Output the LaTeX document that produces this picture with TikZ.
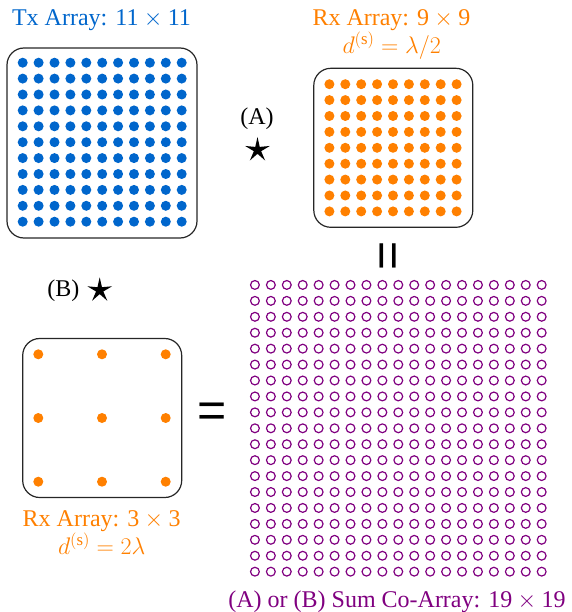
\RequirePackage{fix-cm}
\documentclass[tikz,border=0pt]{standalone}
\usepackage{fontspec}
\usetikzlibrary{shapes.geometric}
\setmainfont{Liberation Serif}
\newfontfamily\eqfont{Liberation Sans}
\definecolor{txblue}{RGB}{0,102,204}
\definecolor{rxorange}{RGB}{255,128,0}
\definecolor{copurple}{RGB}{128,0,128}
\begin{document}
\begin{tikzpicture}[x=1pt,y=-1pt,
  arraybox/.style={draw=black!85, line width=1.2pt, rounded corners=17pt, inner sep=0pt},
  txdot/.style={circle, fill=txblue, inner sep=0pt, minimum size=10pt},
  rxdot/.style={circle, fill=rxorange, inner sep=0pt, minimum size=10pt},
  codot/.style={circle, draw=copurple, line width=1.2pt, inner sep=0pt, minimum size=8.8pt},
  lbl/.style={font=\fontsize{24}{28}\selectfont, anchor=base, inner sep=0pt},
  opsym/.style={font=\eqfont\fontsize{50}{50}\selectfont, inner sep=0pt},
  convstar/.style={star, star points=5, star point ratio=3.4, fill=black, inner sep=0pt, minimum size=26pt}]
\useasboundingbox (0,0) rectangle (571,612);

% Tx array 11 x 11
\node[arraybox, minimum size=190pt] (txbox) at (102,143) {};
\foreach \i in {-5,...,5}{
  \foreach \j in {-5,...,5}{
    \node[txdot] (tx\i\j) at ({102.2+15.9*\i},{142.2+15.9*\j}) {};
  }
}
\node[lbl, text=txblue] (txlabel) at (101.5,26) {Tx Array: 11${}\times{}$11};

% Rx array 9 x 9
\node[arraybox, minimum size=159pt] (rxAbox) at (393.3,147.8) {};
\foreach \i in {-4,...,4}{
  \foreach \j in {-4,...,4}{
    \node[rxdot] (rxa\i\j) at ({393+15.9*\i},{147.8+15.9*\j}) {};
  }
}
\node[lbl, text=rxorange] (rxAlabel) at (391.5,26) {Rx Array: 9${}\times{}$9};
\node[lbl, text=rxorange] (rxAspacing) at (391.7,53.3) {$d^{(\mathrm{s})} = \lambda/2$};

% (A) star
\node[lbl] (labA) at (257,125) {(A)};
\node[convstar] (starA) at (257.5,150) {};

% = rotated
\node[opsym, rotate=90] (eqA) at (392,256) {=};

% (B) star
\node[lbl] (labB) at (63.3,296) {(B)};
\node[convstar] (starB) at (99.7,290.3) {};

% Rx array 3 x 3
\node[arraybox, minimum size=159pt] (rxBbox) at (102.2,418) {};
\foreach \i in {-1,0,1}{
  \foreach \j in {-1,0,1}{
    \node[rxdot] (rxb\i\j) at ({102+63.7*\i},{418+63.7*\j}) {};
  }
}
\node[lbl, text=rxorange] (rxBlabel) at (101.7,526.7) {Rx Array: 3${}\times{}$3};
\node[lbl, text=rxorange] (rxBspacing) at (101.7,554) {$d^{(\mathrm{s})} = 2\lambda$};

% =
\node[opsym] (eqB) at (211.7,415.7) {=};

% Sum co-array 19 x 19
\foreach \i in {-9,...,9}{
  \foreach \j in {-9,...,9}{
    \node[codot] (co\i\j) at ({398.3+15.93*\i},{428.3+15.93*\j}) {};
  }
}
\node[lbl, text=copurple] (colabel) at (397,607) {(A) or (B) Sum Co-Array: 19${}\times{}$19};
\end{tikzpicture}
\end{document}
